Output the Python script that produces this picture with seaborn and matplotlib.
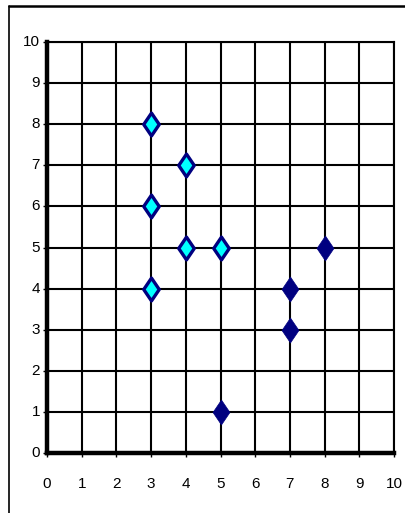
import matplotlib
matplotlib.use("Agg")
import matplotlib.pyplot as plt
import seaborn as sns
import pandas as pd
from matplotlib.path import Path
from matplotlib.lines import Line2D

# Data
light_x = [3, 4, 3, 4, 5, 3]
light_y = [8, 7, 6, 5, 5, 4]
dark_x = [8, 7, 7, 5]
dark_y = [5, 4, 3, 1]
ticks = list(range(0, 11))

df = pd.DataFrame({
    "x": light_x + dark_x,
    "y": light_y + dark_y,
    "group": ["light"] * len(light_x) + ["dark"] * len(dark_x),
})

sns.set_theme(style="white")
plt.rcParams["font.family"] = ["Liberation Sans", "DejaVu Sans"]

fig = plt.figure(figsize=(4.05, 5.13), dpi=100)
ax = fig.add_axes([47 / 405, 1 - 453 / 513, (394 - 47) / 405, (453 - 42) / 513])

diamond = Path([(0, 1), (0.68, 0), (0, -1), (-0.68, 0), (0, 1)],
               [Path.MOVETO, Path.LINETO, Path.LINETO, Path.LINETO, Path.CLOSEPOLY])

sns.scatterplot(data=df[df.group == "light"], x="x", y="y", ax=ax, marker=diamond,
                s=270, color="#00FFFF", edgecolor="#000080", linewidth=2.4, zorder=5, legend=False)
sns.scatterplot(data=df[df.group == "dark"], x="x", y="y", ax=ax, marker=diamond,
                s=320, color="#000080", edgecolor="#000080", linewidth=0.5, zorder=5, legend=False)

ax.set_xlim(0, 10)
ax.set_ylim(0, 10)
ax.set_xticks(ticks)
ax.set_yticks(ticks)
ax.set_xticklabels([str(t) for t in ticks])
ax.set_yticklabels([str(t) for t in ticks])
ax.set_xlabel("")
ax.set_ylabel("")
ax.grid(True, color="black", linewidth=1.5)
ax.set_axisbelow(True)

for side in ["top", "right"]:
    ax.spines[side].set_color("black")
    ax.spines[side].set_linewidth(1.5)
for side in ["left", "bottom"]:
    ax.spines[side].set_color("black")
    ax.spines[side].set_linewidth(3.2)

ax.tick_params(axis="both", direction="out", length=3, width=1, color="black",
               labelsize=11, labelcolor="black", pad=2, left=True, bottom=True)
ax.tick_params(axis="x", pad=14)
for lbl in ax.get_yticklabels():
    lbl.set_verticalalignment("center")
    lbl.set_y(lbl.get_position()[1])

# Outer frame (top and left edges)
fig.add_artist(Line2D([9 / 405, 9 / 405], [0, 1 - 6 / 513], transform=fig.transFigure,
                      color="black", linewidth=1.2))
fig.add_artist(Line2D([9 / 405, 1], [1 - 6 / 513, 1 - 6 / 513], transform=fig.transFigure,
                      color="black", linewidth=1.8))

fig.savefig("out.png", dpi=100)
